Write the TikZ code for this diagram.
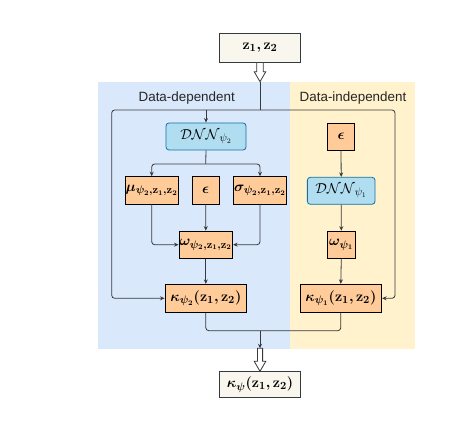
\documentclass[tikz,border=0pt]{standalone}
\usepackage{amsmath,bm}
\usepackage{fontspec}
\newfontfamily\labfont{Liberation Sans}
\usetikzlibrary{arrows.meta,calc}
\definecolor{bgblue}{HTML}{DAE8FC}
\definecolor{bgyellow}{HTML}{FFF2CC}
\definecolor{orangefill}{HTML}{FFCC99}
\definecolor{bluefill}{HTML}{B1DDF0}
\definecolor{bluestroke}{HTML}{10739E}
\definecolor{grayfill}{HTML}{F9F7ED}
\definecolor{darkline}{HTML}{36393D}
\tikzset{
  base/.style={draw=darkline, line width=0.8pt, inner sep=0pt, font=\fontsize{15}{18}\selectfont},
  iobox/.style={base, fill=grayfill},
  obox/.style={base, fill=orangefill, draw=black},
  nnbox/.style={base, fill=bluefill, draw=bluestroke, rounded corners=3pt},
  arr/.style={-{Stealth[length=4.5pt,width=4pt]}, draw=darkline, line width=0.8pt, rounded corners=3pt},
  conn/.style={draw=darkline, line width=0.8pt, rounded corners=3pt},
  lab/.style={font=\labfont\fontsize{13.4}{16}\selectfont, text=black!85},
  dbl/.style={draw=darkline, line width=0.8pt, fill=white},
}
\begin{document}
\begin{tikzpicture}[x=1pt,y=-1pt]
\useasboundingbox (0,0) rectangle (473,443);
% backgrounds
\fill[bgblue] (98.3,81.7) rectangle (290,349);
\fill[bgyellow] (290,81.7) rectangle (415,349);
\node[lab] (ldep) at (186.7,98) {Data-dependent};
\node[lab] (lind) at (353,98) {Data-independent};
% nodes
\node[iobox, minimum width=81pt, minimum height=29pt] (top) at (260,47.7) {$\bm{\mathbf{z}_1,\mathbf{z}_2}$};
\node[nnbox, minimum width=80pt, minimum height=27pt] (dnn2) at (206,136.5) {$\mathcal{DNN}_{\psi_2}$};
\node[obox, minimum width=27pt, minimum height=27pt] (eps1) at (341,136.5) {$\bm{\epsilon}$};
\node[obox, minimum width=53.3pt, minimum height=27.3pt] (mu) at (151.7,190.3) {$\bm{\mu_{\psi_2,\mathbf{z}_1,\mathbf{z}_2}}$};
\node[obox, minimum width=26.7pt, minimum height=27.3pt] (epsm) at (205.7,190.3) {$\bm{\epsilon}$};
\node[obox, minimum width=53.3pt, minimum height=27.3pt] (sigma) at (260,190.3) {$\bm{\sigma_{\psi_2,\mathbf{z}_1,\mathbf{z}_2}}$};
\node[obox, minimum width=53.7pt, minimum height=27.3pt] (omega2) at (205.8,244.7) {$\bm{\omega_{\psi_2,\mathbf{z}_1,\mathbf{z}_2}}$};
\node[nnbox, minimum width=67.7pt, minimum height=27pt] (dnn1) at (341.2,190.8) {$\mathcal{DNN}_{\psi_1}$};
\node[obox, minimum width=27.3pt, minimum height=27pt] (omega1) at (341.3,244.6) {$\bm{\omega_{\psi_1}}$};
\node[obox, minimum width=81.7pt, minimum height=28pt] (kappa2) at (205.8,298.3) {$\bm{\kappa_{\psi_2}(\mathbf{z}_1,\mathbf{z}_2)}$};
\node[obox, minimum width=81.7pt, minimum height=28pt] (kappa1) at (340.8,298.3) {$\bm{\kappa_{\psi_1}(\mathbf{z}_1,\mathbf{z}_2)}$};
\node[iobox, minimum width=81.4pt, minimum height=26pt] (out) at (260,384.7) {$\bm{\kappa_{\psi}(\mathbf{z}_1,\mathbf{z}_2)}$};
% coordinates
\coordinate (a1) at (260,81.7);
\coordinate (j1) at (260,110);
\coordinate (L) at (111.7,110);
\coordinate (R) at (395,110);
\coordinate (s1) at (205.7,164);
\coordinate (j2) at (260,330.7);
\coordinate (j3) at (260,348.3);
% top double arrow
\path let \p1=(top.south), \p2=(a1) in
  [dbl] (\x1-3.3pt,\y1) -- (\x1+3.3pt,\y1) -- (\x1+3.3pt,\y2+10pt) -- (\x1+5.8pt,\y2+10pt)
  -- (\x1,\y2) -- (\x1-5.8pt,\y2+10pt) -- (\x1-3.3pt,\y2+10pt) -- cycle;
\draw[conn] (a1) -- (j1);
\draw[arr] (j1) -- (L) |- (kappa2.west);
\draw[arr] (j1) -- (R) |- (kappa1.east);
\draw[arr] (dnn2.north |- j1) -- (dnn2.north);
% data-dependent
\draw[conn] (dnn2.south) -- (s1);
\draw[arr] (s1) -| (mu.north);
\draw[arr] (s1) -| (sigma.north);
\draw[arr] (mu.south) |- (omega2.west);
\draw[arr] (sigma.south) |- (omega2.east);
\draw[arr] (epsm.south) -- (omega2.north);
\draw[arr] (omega2.south) -- (kappa2.north);
% data-independent
\draw[arr] (eps1.south) -- (dnn1.north);
\draw[arr] (dnn1.south) -- (omega1.north);
\draw[arr] (omega1.south) -- (kappa1.north);
% merge
\draw[conn] (kappa2.south) |- (j2);
\draw[conn] (kappa1.south) |- (j2);
\draw[arr] (j2) -- (j3);
\path let \p1=(j3), \p2=(out.north) in
  [dbl] (\x1-2.6pt,\y1) -- (\x1+2.6pt,\y1) -- (\x1+2.6pt,\y2+10pt) -- (\x1+5.8pt,\y2+10pt)
  -- (\x1,\y2) -- (\x1-5.8pt,\y2+10pt) -- (\x1-2.6pt,\y2+10pt) -- cycle;
\end{tikzpicture}
\end{document}
